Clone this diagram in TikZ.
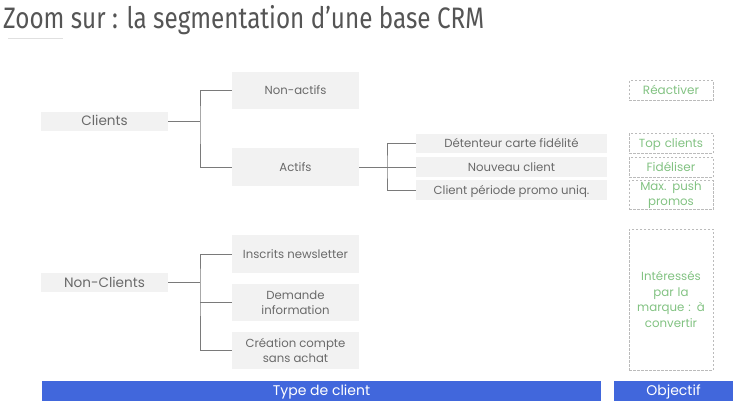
\documentclass[tikz,border=0pt]{standalone}
\usepackage{fontspec}
\setmainfont{Poppins}
\newfontfamily\titlefont[FakeStretch=0.82]{Fira Sans}
\usetikzlibrary{calc}
\definecolor{boxfill}{HTML}{F2F2F2}
\definecolor{boxtext}{HTML}{6A6A6A}
\definecolor{linec}{HTML}{7A7A7A}
\definecolor{goodgreen}{HTML}{82C282}
\definecolor{dashc}{HTML}{BBBBBB}
\definecolor{barblue}{HTML}{4167DC}
\definecolor{titlec}{HTML}{555555}
\tikzset{
  one/.style={text height=8.4pt, text depth=0.4pt},
  onebig/.style={text height=9.8pt, text depth=0.4pt},
  gbox/.style={fill=boxfill, draw=none, text=boxtext, inner sep=0pt, align=center,
    font=\fontsize{11.7}{15}\selectfont},
  objbox/.style={draw=dashc, dashed, dash pattern=on 2.5pt off 1.5pt, line width=0.7pt,
    text=goodgreen, inner sep=0pt, align=center, minimum width=84, text width=80,
    font=\fontsize{12}{15.5}\selectfont},
  bar/.style={fill=barblue, draw=none, text=white, inner sep=0pt, minimum height=20, onebig,
    font=\fontsize{14}{16}\selectfont},
  conn/.style={draw=linec, line width=0.8pt}
}
\begin{document}
\begin{tikzpicture}[x=1pt,y=-1pt]
\useasboundingbox (0,0) rectangle (736,405);
% title
\node[anchor=base west, inner sep=0pt, text=titlec, font=\titlefont\fontsize{29.6}{31}\selectfont] (title) at (3,28) {Zoom sur : la segmentation d’une base CRM};
\draw[draw=black!12, line width=0.6pt] (8,38) -- (63,38);

% left column
\node[gbox, onebig, minimum width=127, minimum height=19, font=\fontsize{13.6}{15}\selectfont] (clients) at (104.5,121) {Clients};
\node[gbox, onebig, minimum width=127, minimum height=19, font=\fontsize{13.6}{15}\selectfont] (noncl) at (104.5,282.5) {Non-Clients};

% second column
\node[gbox, one, minimum width=127, minimum height=37] (nonactifs) at (295.5,90.5) {Non-actifs};
\node[gbox, one, minimum width=127, minimum height=38] (actifs) at (295.5,167) {Actifs};
\node[gbox, one, minimum width=127, minimum height=38] (inscrits) at (295.5,254) {Inscrits newsletter};
\node[gbox, minimum width=127, minimum height=37] (demande) at (295.5,302.5) {Demande\\information};
\node[gbox, minimum width=127, minimum height=37] (creation) at (295.5,350.5) {Création compte\\sans achat};

% third column
\node[gbox, one, minimum width=191, minimum height=19] (detenteur) at (511.5,143.5) {Détenteur carte fidélité};
\node[gbox, one, minimum width=191, minimum height=20] (nouveau) at (511.5,167) {Nouveau client};
\node[gbox, one, minimum width=191, minimum height=20] (clientp) at (511.5,190) {Client période promo uniq.};

% objectives
\node[objbox, one, minimum height=20] (reactiver) at (671,90.5) {Réactiver};
\node[objbox, one, minimum height=20, font=\fontsize{11.8}{15}\selectfont] (top) at (671,143) {Top clients};
\node[objbox, one, minimum height=20] (fideliser) at (671,167) {Fidéliser};
\node[objbox, minimum height=29, font=\fontsize{11.8}{15.5}\selectfont] (maxpush) at (671,195) {Max. push\\promos};
\node[objbox, minimum height=141, font=\fontsize{11.8}{15.4}\selectfont] (interesses) at (671,299.5) {Intéressés\\par la\\marque : à\\convertir};

% bars
\node[bar, minimum width=559] (type) at (321.5,391) {Type de client};
\node[bar, minimum width=119] (objectif) at (673.5,391) {Objectif};

% connectors
\coordinate (j1) at (200,121);
\coordinate (j2) at (387,167);
\coordinate (j3) at (200,282.5);
\draw[conn] (clients.east) -- (j1);
\draw[conn] (nonactifs.west) -| (j1) |- (actifs.west);
\draw[conn] (actifs.east) -- (nouveau.west);
\draw[conn] (detenteur.west) -| (j2) |- (clientp.west);
\draw[conn] (noncl.east) -- (j3);
\draw[conn] (inscrits.west) -| (j3) |- (creation.west);
\draw[conn] (j3 |- demande.west) -- (demande.west);
\end{tikzpicture}
\end{document}
